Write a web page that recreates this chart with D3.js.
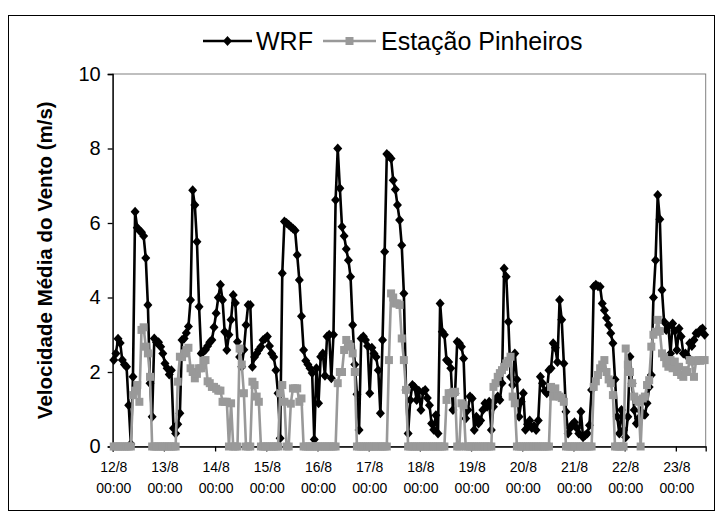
<!DOCTYPE html>
<meta charset="utf-8">
<style>
  body { margin: 0; background: #fff; }
  svg { display: block; font-family: Arial, "Liberation Sans", sans-serif; }
</style>
<svg width="720" height="517"></svg>
<script src="https://d3js.org/d3.v7.min.js"></script>
<script>
    // hourly means, 12/8 00:00 .. 23/8 13:00
    var wrf = [
        2.32,2.5,2.89,2.78,2.32,2.2,2.14,1.11,0.07,1.87,6.3,5.87,5.8,5.75,5.65,5.06,3.8,1.7,0.8,2.9,2.8,2.8,2.68,2.5,
        2.23,2.1,1.93,2.05,0.49,0.35,0.6,0.89,2.86,2.9,3.05,3.22,3.93,6.88,6.48,5.5,3.75,2.5,2.55,2.6,2.7,2.8,2.86,3.2,
        3.58,4.0,4.34,3.93,3.08,2.59,3.0,3.4,4.07,3.85,2.81,2.4,2.14,2.6,3.26,3.8,3.8,2.14,2.4,2.5,2.6,2.68,2.86,2.9,
        2.95,2.7,2.5,2.4,2.05,1.43,0.22,4.65,6.04,6.0,5.95,5.9,5.85,5.8,5.14,4.47,3.5,2.59,2.3,2.2,2.1,1.97,0.19,2.1,
        1.16,2.41,2.5,1.9,2.95,3.0,1.83,3.0,6.62,8.0,6.93,5.9,5.65,5.3,5.0,4.56,3.26,2.2,1.4,0.44,2.9,2.95,2.86,2.7,
        1.43,2.65,2.5,2.4,2.05,0.89,2.86,5.23,7.85,7.8,7.73,7.15,6.9,6.48,6.08,5.4,4.11,1.52,0.35,1.25,1.65,1.6,1.25,1.5,
        0.98,1.47,1.52,1.3,1.11,0.62,0.45,0.84,0.35,3.84,3.08,3.0,2.32,2.27,2.1,0.98,1.43,2.81,2.77,2.68,2.36,0.75,0.98,1.34,
        1.29,0.44,0.8,0.62,0.7,0.98,1.16,1.07,1.2,0.44,1.07,1.25,1.34,1.25,1.7,4.78,4.56,3.35,1.87,1.65,2.5,1.8,0.8,1.2,
        1.43,0.45,0.6,0.7,0.5,0.55,0.44,0.7,1.87,1.7,1.5,1.43,2.05,2.1,2.77,2.65,2.27,3.93,3.4,2.23,0.93,0.35,0.5,0.6,
        0.65,0.5,0.35,0.93,0.25,0.3,0.35,0.57,1.52,4.29,4.34,4.3,4.29,3.84,3.66,3.45,3.26,3.04,2.77,1.8,0.8,0.35,0.98,0.44,
        0.25,0.8,2.41,1.7,0.98,0.62,0.75,0.95,0.85,0.85,1.16,1.6,1.92,4.0,5.0,6.75,6.1,4.2,3.35,3.13,3.22,2.5,3.3,3.1,
        2.59,3.17,2.95,2.5,2.5,2.41,2.77,2.7,2.86,3.04,3.04,3.13,3.17,3.0
    ];

    var estacao = [
        0,0,0,0,0,0,0,0,0,1.38,1.5,1.65,1.2,3.13,3.2,2.68,2.5,1.87,0,0,0,0,0,0,
        0,0,0,0,0,0,1.74,2.41,2.4,2.5,2.59,2.65,2.1,2.0,1.83,1.95,2.1,2.1,2.3,2.32,1.75,1.7,1.6,1.6,
        1.55,1.5,1.5,1.2,1.2,1.2,0,1.16,0,0,0,2.63,2.2,1.43,0,0,0,1.74,1.65,1.34,1.2,0,0,0,
        0,0,0,0,0,0,1.43,1.65,1.2,0,0,1.15,1.56,1.56,1.56,1.2,1.29,0,0,0,0,0,0,0,
        0,0,0,0,0,0,0,0,0,1.7,2.0,2.0,2.59,2.86,2.75,2.68,2.5,2.0,0,0,0,0,0,0,
        0,0,0,0,0,0,0,0,0,2.32,4.11,4.0,3.84,3.84,3.8,2.9,2.32,1.52,0,0,0,0,0,0,
        0,0,0,0,0,0,0,0,0,0,0,0,1.25,1.43,1.43,1.45,1.47,0,0,1.16,1.11,0,0,0,
        0,0,0,0,0,0,0,0,0,0,1.6,1.7,1.87,1.97,2.05,2.14,2.23,2.3,2.41,1.34,1.16,0,0,0,
        0,0,0,0,0,0,0,0,0,0,0,0,0,1.6,1.34,1.56,1.38,1.34,1.3,1.2,0,0,0,0,
        0,0,0,0,0,0,0,0,0,1.6,1.75,1.92,2.1,2.2,2.32,2.0,1.8,1.7,1.38,0,0,0,0,0,
        2.63,2.2,2.0,1.7,1.34,1.25,1.2,0,1.29,1.34,1.65,1.78,2.68,3.0,3.08,3.4,3.1,2.5,2.4,2.23,2.14,2.32,2.1,2.28,
        2.0,2.14,1.92,1.87,2.05,2.0,2.32,2.28,1.87,2.3,2.32,2.3,2.32,2.32
    ];

    var dayLabels = ["12/8", "13/8", "14/8", "15/8", "16/8", "17/8", "18/8", "19/8", "20/8", "21/8", "22/8", "23/8"];
    var hourLabel = "00:00";
    var yTicks = [0, 2, 4, 6, 8, 10];
    var seriesNames = ["WRF", "Estação Pinheiros"];

    var svg = d3.select("svg"),
        margin = {top: 74, right: 14.3, bottom: 70.5, left: 112.7},
        width = +svg.attr("width"),
        height = +svg.attr("height");

    var n = wrf.length;

    // outer chart border
    svg.append("rect")
        .attr("x", 8.5).attr("y", 15.5)
        .attr("width", 706).attr("height", 495)
        .attr("fill", "none").attr("stroke", "#000").attr("stroke-width", 1);

    var x = d3.scaleLinear()
        .domain([0, n])
        .range([margin.left, width - margin.right]);

    var y = d3.scaleLinear()
        .domain([0, 10])
        .range([height - margin.bottom, margin.top]);

    // plot area frame (grey)
    svg.append("rect")
        .attr("x", x(0)).attr("y", y(10))
        .attr("width", x(n) - x(0)).attr("height", y(0) - y(10))
        .attr("fill", "none").attr("stroke", "#808080").attr("stroke-width", 1);

    // y axis
    var yAxis = svg.append("g")
        .attr("transform", "translate(" + x(0) + ",0)")
        .call(d3.axisLeft(y).tickValues(yTicks).tickSize(5).tickPadding(7));
    yAxis.select(".domain").attr("stroke", "#000").attr("stroke-width", 1.3);
    yAxis.selectAll(".tick line").attr("stroke", "#000").attr("stroke-width", 1.3);
    yAxis.selectAll(".tick text")
        .attr("font-size", 20).attr("fill", "#000")
        .attr("font-family", "Arial, 'Liberation Sans', sans-serif");

    // x axis: tick marks between days, labels on first hour of each day
    var dayStarts = dayLabels.map(function(d, i) { return i * 24; });
    var xAxis = svg.append("g")
        .attr("transform", "translate(0," + y(0) + ")")
        .call(d3.axisBottom(x).tickValues(dayStarts).tickSize(5).tickFormat(""));
    xAxis.select(".domain").attr("stroke", "#000").attr("stroke-width", 1.3);
    xAxis.selectAll(".tick line").attr("stroke", "#000").attr("stroke-width", 1.3);

    var xl = svg.append("g")
        .attr("font-size", 14)
        .attr("text-anchor", "middle")
        .attr("fill", "#000");
    xl.selectAll("text.day")
        .data(dayLabels)
        .enter().append("text")
        .attr("x", function(d, i) { return x(dayStarts[i] + 0.5); })
        .attr("y", y(0) + 25)
        .text(function(d) { return d; });
    xl.selectAll("text.hour")
        .data(dayLabels)
        .enter().append("text")
        .attr("x", function(d, i) { return x(dayStarts[i] + 0.5); })
        .attr("y", y(0) + 46)
        .text(hourLabel);

    // y axis title
    svg.append("text")
        .attr("transform", "translate(52," + ((y(0) + y(10)) / 2) + ") rotate(-90)")
        .attr("text-anchor", "middle")
        .attr("font-size", 20.5)
        .attr("font-weight", "bold")
        .text("Velocidade Média do Vento (m/s)");

    var line = d3.line()
        .x(function(d, i) { return x(i + 0.5); })
        .y(function(d) { return y(d); });

    var diamond = "M0,-5L4.5,0L0,5L-4.5,0Z";

    // WRF
    svg.append("path")
        .datum(wrf)
        .attr("fill", "none")
        .attr("stroke", "#000")
        .attr("stroke-width", 2.6)
        .attr("stroke-linejoin", "round")
        .attr("d", line);

    svg.append("g")
        .selectAll("path")
        .data(wrf)
        .enter().append("path")
        .attr("transform", function(d, i) { return "translate(" + x(i + 0.5) + "," + y(d) + ")"; })
        .attr("d", diamond)
        .attr("fill", "#000");

    // Estacao Pinheiros
    svg.append("path")
        .datum(estacao)
        .attr("fill", "none")
        .attr("stroke", "#999")
        .attr("stroke-width", 2.6)
        .attr("stroke-linejoin", "round")
        .attr("d", line);

    svg.append("g")
        .selectAll("rect")
        .data(estacao)
        .enter().append("rect")
        .attr("x", function(d, i) { return x(i + 0.5) - 4; })
        .attr("y", function(d) { return y(d) - 4; })
        .attr("width", 8)
        .attr("height", 8)
        .attr("fill", "#999");

    // legend
    var legend = svg.append("g").attr("font-size", 25);
    var lg = [
        {x0: 203, x1: 252, tx: 256, color: "#000", mark: "diamond"},
        {x0: 323, x1: 376, tx: 381, color: "#999", mark: "square"}
    ];
    lg.forEach(function(l, i) {
        legend.append("line")
            .attr("x1", l.x0).attr("x2", l.x1)
            .attr("y1", 41).attr("y2", 41)
            .attr("stroke", l.color).attr("stroke-width", 2.6);
        if (l.mark === "diamond") {
            legend.append("path")
                .attr("transform", "translate(" + ((l.x0 + l.x1) / 2) + ",41)")
                .attr("d", diamond).attr("fill", l.color);
        } else {
            legend.append("rect")
                .attr("x", (l.x0 + l.x1) / 2 - 4).attr("y", 37)
                .attr("width", 8).attr("height", 8).attr("fill", l.color);
        }
        legend.append("text")
            .attr("x", l.tx).attr("y", 50)
            .text(seriesNames[i]);
    });
</script>
